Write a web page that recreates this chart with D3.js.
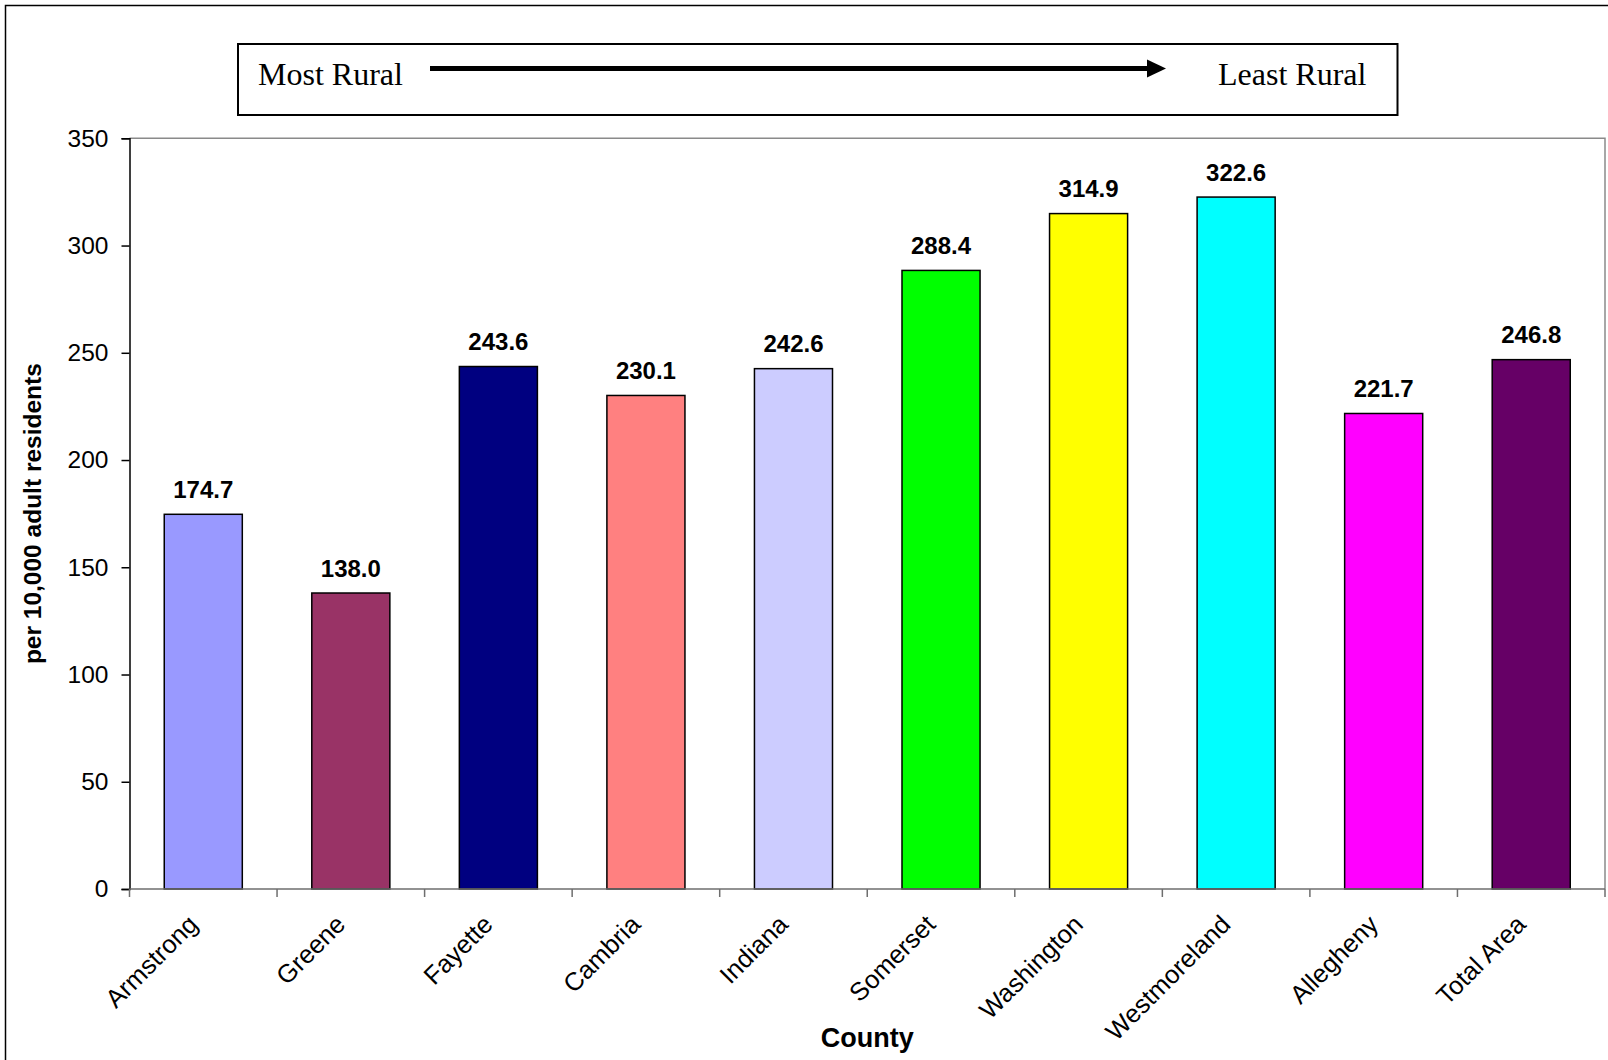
<!DOCTYPE html>
<html>
<head>
<meta charset="utf-8">
<script src="https://cdn.jsdelivr.net/npm/d3@7"></script>
<style>
  html, body { margin: 0; padding: 0; background: #fff; }
  svg { display: block; }
</style>
</head>
<body>
<svg id="chart" width="1608" height="1060"></svg>
<script>
// County rates per 10,000 adult residents, ordered from most to least rural
const counties = ["Armstrong", "Greene", "Fayette", "Cambria", "Indiana",
                  "Somerset", "Washington", "Westmoreland", "Allegheny", "Total Area"];
const rates = [174.7, 138.0, 243.6, 230.1, 242.6, 288.4, 314.9, 322.6, 221.7, 246.8];
const barColors = ["#9999FF", "#993366", "#000080", "#FF8080", "#CCCCFF",
                   "#00FF00", "#FFFF00", "#00FFFF", "#FF00FF", "#660066"];
const yTicks = [0, 50, 100, 150, 200, 250, 300, 350];

const svg = d3.select("#chart");
const W = 1608, H = 1060;
const plot = { left: 129.5, right: 1605, top: 138.3, bottom: 889 };

// outer chart frame
svg.append("rect")
  .attr("x", 5.5).attr("y", 5.5)
  .attr("width", W + 10).attr("height", H + 10)
  .attr("fill", "#fff").attr("stroke", "#000").attr("stroke-width", 1.5);

const x = d3.scaleBand()
  .domain(counties)
  .range([plot.left, plot.right])
  .paddingInner(0.471)
  .paddingOuter(0.2355);

const y = d3.scaleLinear()
  .domain([0, 350])
  .range([plot.bottom, plot.top]);

// plot area frame (top and right edges)
svg.append("path")
  .attr("d", `M${plot.left},${plot.top}H${plot.right}V${plot.bottom}`)
  .attr("fill", "none").attr("stroke", "#8a8a8a").attr("stroke-width", 1.5);

// bars
svg.append("g").selectAll("rect")
  .data(counties)
  .join("rect")
  .attr("x", d => x(d))
  .attr("y", (d, i) => y(rates[i]))
  .attr("width", x.bandwidth())
  .attr("height", (d, i) => y(0) - y(rates[i]))
  .attr("fill", (d, i) => barColors[i])
  .attr("stroke", "#000").attr("stroke-width", 1.5);

// value labels above bars
svg.append("g").selectAll("text")
  .data(counties)
  .join("text")
  .attr("x", d => x(d) + x.bandwidth() / 2)
  .attr("y", (d, i) => y(rates[i]) - 16.5)
  .attr("text-anchor", "middle")
  .attr("font-family", "Liberation Sans, Arial, sans-serif")
  .attr("font-weight", "bold")
  .attr("font-size", 24)
  .attr("fill", "#000")
  .text((d, i) => rates[i].toFixed(1));

// y axis
const yAxis = d3.axisLeft(y).tickValues(yTicks).tickSize(8).tickPadding(13);
const gy = svg.append("g")
  .attr("transform", `translate(${plot.left},0)`)
  .call(yAxis);
gy.select(".domain").attr("stroke", "#000").attr("stroke-width", 1.5);
gy.selectAll(".tick line").attr("stroke", "#000").attr("stroke-width", 1.5);
gy.selectAll(".tick text")
  .attr("font-family", "Liberation Sans, Arial, sans-serif")
  .attr("font-size", 24.5).attr("fill", "#000");

// x axis: ticks at category boundaries
const boundaries = d3.range(counties.length + 1).map(i => plot.left + i * x.step());
const gx = svg.append("g");
gx.append("line")
  .attr("x1", plot.left).attr("x2", plot.right)
  .attr("y1", plot.bottom).attr("y2", plot.bottom)
  .attr("stroke", "#6e6e6e").attr("stroke-width", 1.5);
gx.selectAll("line.tick")
  .data(boundaries)
  .join("line")
  .attr("class", "tick")
  .attr("x1", d => d).attr("x2", d => d)
  .attr("y1", plot.bottom).attr("y2", plot.bottom + 8)
  .attr("stroke", "#6e6e6e").attr("stroke-width", 1.5);

// rotated category labels
gx.selectAll("text")
  .data(counties)
  .join("text")
  .attr("transform", d => `translate(${x(d) + x.bandwidth() / 2 - 17},${plot.bottom + 24}) rotate(-45)`)
  .attr("text-anchor", "end")
  .attr("dy", "0.72em")
  .attr("font-family", "Liberation Sans, Arial, sans-serif")
  .attr("font-size", 25.5)
  .attr("fill", "#000")
  .text(d => d);

// axis titles
svg.append("text")
  .attr("x", (plot.left + plot.right) / 2)
  .attr("y", 1047)
  .attr("text-anchor", "middle")
  .attr("font-family", "Liberation Sans, Arial, sans-serif")
  .attr("font-weight", "bold")
  .attr("font-size", 27)
  .text("County");

svg.append("text")
  .attr("transform", `translate(41,${(plot.top + plot.bottom) / 2}) rotate(-90)`)
  .attr("text-anchor", "middle")
  .attr("font-family", "Liberation Sans, Arial, sans-serif")
  .attr("font-weight", "bold")
  .attr("font-size", 24.5)
  .text("per 10,000 adult residents");

// rurality banner
const banner = svg.append("g");
banner.append("rect")
  .attr("x", 238).attr("y", 44)
  .attr("width", 1159.5).attr("height", 71)
  .attr("fill", "#fff").attr("stroke", "#000").attr("stroke-width", 2);
banner.append("text")
  .attr("x", 258).attr("y", 85)
  .attr("font-family", "Liberation Serif, Times New Roman, serif")
  .attr("font-size", 32)
  .text("Most Rural");
banner.append("text")
  .attr("x", 1218).attr("y", 85)
  .attr("font-family", "Liberation Serif, Times New Roman, serif")
  .attr("font-size", 32)
  .text("Least Rural");
banner.append("line")
  .attr("x1", 430).attr("x2", 1149)
  .attr("y1", 68.5).attr("y2", 68.5)
  .attr("stroke", "#000").attr("stroke-width", 5);
banner.append("path")
  .attr("d", "M1147,59.5L1166,68.5L1147,77.5Z")
  .attr("fill", "#000");
</script>
</body>
</html>
